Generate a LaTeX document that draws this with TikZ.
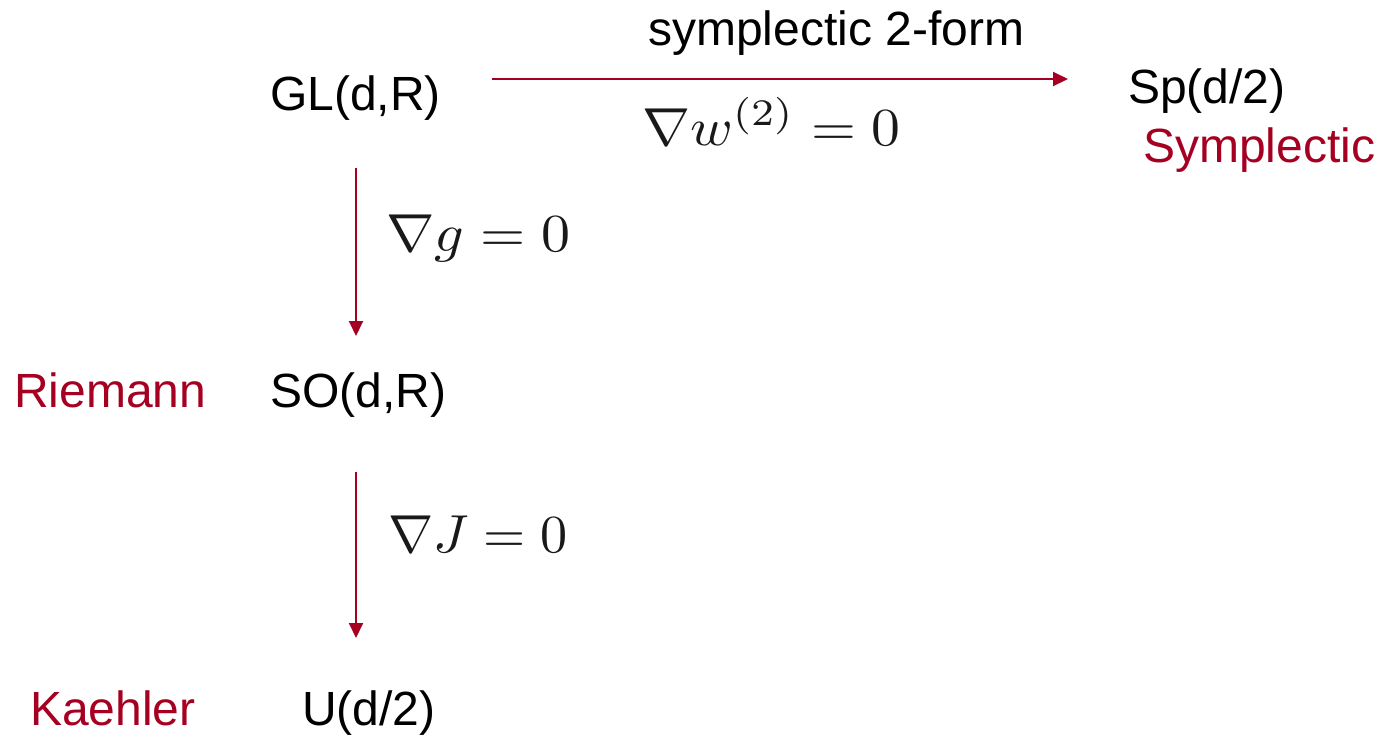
\documentclass[tikz,border=0pt]{standalone}
\usepackage{fontspec}
\usepackage{graphicx}
\setmainfont{Liberation Sans}
\usetikzlibrary{arrows.meta}
\definecolor{dred}{RGB}{165,0,33}
\newcommand{\bigmath}[2]{\scalebox{#1}[5.35]{$#2$}}
\begin{document}
\begin{tikzpicture}[x=1pt,y=-1pt,
  lbl/.style={inner sep=0pt,anchor=base west,font=\fontsize{48}{56}\selectfont},
  redlbl/.style={lbl,text=dred},
  mathlbl/.style={inner sep=0pt,anchor=base west,text=black!90},
  conn/.style={draw=dred,line width=2pt,-{Triangle[length=15pt,width=14pt]}}]
\useasboundingbox (0,0) rectangle (1384,734);
\node[lbl] (gl) at (270,110) {GL(d,R)};
\node[lbl] (sp) at (1128,103) {Sp(d/2)};
\node[lbl] (so) at (270,407) {SO(d,R)};
\node[lbl] (u) at (302,725) {U(d/2)};
\node[redlbl] (riem) at (14,407) {Riemann};
\node[redlbl] (kae) at (30,725) {Kaehler};
\node[redlbl] (sym) at (1143,162) {Symplectic};
\node[lbl] (form) at (648,45) {symplectic 2-form};
\node[mathlbl] (mw) at (642,145) {\bigmath{5.77}{\nabla w^{(2)} = 0}};
\node[mathlbl] (mg) at (386,251) {\bigmath{5.8}{\nabla g = 0}};
\node[mathlbl] (mj) at (388,552) {\bigmath{5.42}{\nabla J = 0}};
\coordinate (h1) at (492,79);
\coordinate (h2) at (1068,79);
\coordinate (v1) at (356,168);
\coordinate (v2) at (356,336);
\coordinate (v3) at (356,472);
\coordinate (v4) at (356,638);
\draw[conn] (h1) -- (h2);
\draw[conn] (v1) -- (v2);
\draw[conn] (v3) -- (v4);
\end{tikzpicture}
\end{document}
